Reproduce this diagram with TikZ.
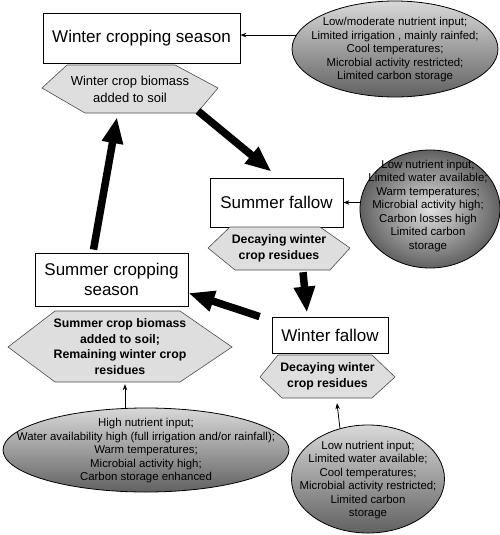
\documentclass[tikz,border=0pt]{standalone}
\usepackage{fontspec}
\setmainfont{Liberation Sans}
\usetikzlibrary{arrows.meta,shapes.geometric,calc}
\begin{document}
\begin{tikzpicture}[x=1pt,y=-1pt,
 box/.style={draw=black,line width=0.8pt,fill=white,inner sep=0pt,align=center,font=\fontsize{17}{20}\selectfont},
 hexfill/.style={draw=black!70,line width=0.6pt,fill=black!13},
 hextext/.style={inner sep=0pt,align=center,font=\bfseries\fontsize{12.3}{15.5}\selectfont},
 ell/.style={ellipse,draw=black,line width=0.8pt,inner sep=0pt,top color=black!15,bottom color=black!62},
 elltext/.style={align=center,inner sep=0pt,font=\fontsize{11.4}{13.5}\selectfont},
 bigarrow/.style={line width=7.5pt,-{Triangle[width=20pt,length=26pt]}},
 smallarrow/.style={line width=0.8pt,-{Stealth[length=6pt,width=4.5pt]}}
]
\useasboundingbox (0,0) rectangle (500,535);

% boxes
\node[box,minimum width=197pt,minimum height=50pt] (b1) at (141.5,38) {Winter cropping season};
\node[box,minimum width=133pt,minimum height=49pt] (b2) at (276.5,202.5) {Summer fallow};
\node[box,minimum width=153pt,minimum height=53pt] (b3) at (111.5,279.5) {Summer cropping\\season};
\node[box,minimum width=116pt,minimum height=36pt] (b4) at (330,335) {Winter fallow};

% hexagons
\draw[hexfill] (42,88) -- (67,65) -- (175,65) -- (218,88) -- (197,113) -- (85,113) -- cycle;
\node[hextext,font=\fontsize{13}{17}\selectfont,minimum width=176pt,minimum height=48pt] (h1) at (130,89) {Winter crop biomass\\added to soil};
\draw[hexfill] (208,248) -- (230,227) -- (320,227) -- (350,248) -- (330,270) -- (235,270) -- cycle;
\node[hextext,minimum width=142pt,minimum height=43pt] (h2) at (279,248.5) {Decaying winter\\crop residues};
\draw[hexfill] (260,377) -- (278,355) -- (372,355) -- (395,377) -- (372,398) -- (282,398) -- cycle;
\node[hextext,minimum width=135pt,minimum height=43pt] (h3) at (327.5,376.5) {Decaying winter\\crop residues};
\draw[hexfill] (8,347) -- (55,311) -- (180,311) -- (232,347) -- (180,382) -- (55,382) -- cycle;
\node[hextext,minimum width=224pt,minimum height=71pt] (h4) at (120,346.5) {Summer crop biomass\\added to soil;\\Remaining winter crop\\residues};

% ellipses
\node[ell,minimum width=206pt,minimum height=96pt] (e1) at (395,49) {};
\node[elltext] (e1t) at (395,50) {Low/moderate nutrient input;\\Limited irrigation , mainly rainfed;\\Cool temperatures;\\Microbial activity restricted;\\Limited carbon storage};
\node[ell,shading=radial,inner color=black!12,outer color=black!62,minimum width=140pt,minimum height=118pt] (e2) at (430,209) {};
\node[elltext] (e2t) at (428,206) {Low nutrient input;\\Limited water available;\\Warm temperatures;\\Microbial activity high;\\Carbon losses high\\Limited carbon\\storage};
\node[ell,minimum width=286pt,minimum height=84pt] (e3) at (146,450) {};
\node[elltext] (e3t) at (146,451) {High nutrient input;\\Water availability high (full irrigation and/or rainfall);\\Warm temperatures;\\Microbial activity high;\\Carbon storage enhanced};
\node[ell,minimum width=153pt,minimum height=108pt] (e4) at (368,479) {};
\node[elltext] (e4t) at (368,480) {Low nutrient input;\\Limited water available;\\Cool temperatures;\\Microbial activity restricted;\\Limited carbon\\storage};

% thick cycle arrows
\coordinate (h1br) at (198,111);
\draw[bigarrow] (h1br) -- ($(b2.north)+(-5,-6)$);
\draw[bigarrow] ($(h2.south)+(24,2)$) -- ($(b4.north)+(-23,-4)$);
\draw[bigarrow] ($(b4.north west)+(-12,0)$) -- ($(b3.east)+(0,13.5)$);
\draw[bigarrow] ($(b3.north)+(-18,-3)$) -- ($(h1.south)+(-13,4)$);

% thin arrows
\draw[smallarrow] (e1.172) -- (e1.172 -| b1.east);
\draw[smallarrow] (e2.west |- b2.east) -- (b2.east);
\draw[smallarrow] ($(e3.north)+(-21,0)$) -- ($(h4.south)+(5,2)$);
\draw[smallarrow] (e4.119) -- ($(h3.south)+(9.5,5)$);
\end{tikzpicture}
\end{document}
